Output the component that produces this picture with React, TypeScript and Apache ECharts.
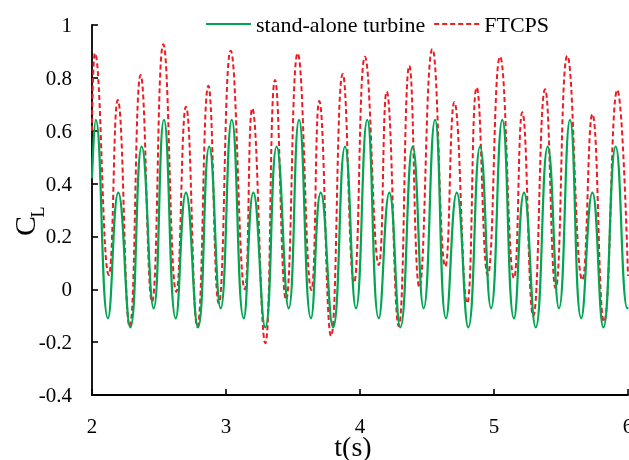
import React, { useEffect, useRef } from "react";
import * as echarts from "echarts";

// stand-alone turbine: times (s) and C_L values at peaks / troughs
const greenT = [
  2.0, 2.028, 2.119, 2.196, 2.286, 2.371, 2.46,
  2.537, 2.625, 2.701, 2.791, 2.875, 2.96,
  3.043, 3.132, 3.204, 3.293, 3.378, 3.468,
  3.545, 3.634, 3.707, 3.799, 3.888, 3.97,
  4.054, 4.14, 4.219, 4.301, 4.393, 4.475,
  4.56, 4.642, 4.722, 4.808, 4.896, 4.978,
  5.062, 5.149, 5.224, 5.311, 5.401, 5.485,
  5.567, 5.651, 5.734, 5.816, 5.908, 5.995, 6.0,
];
const greenV = [
  0.42, 0.641, -0.11, 0.366, -0.144, 0.54, -0.072,
  0.641, -0.11, 0.366, -0.144, 0.54, -0.072,
  0.641, -0.11, 0.366, -0.144, 0.54, -0.072,
  0.641, -0.11, 0.366, -0.144, 0.54, -0.072,
  0.641, -0.11, 0.366, -0.144, 0.54, -0.072,
  0.641, -0.11, 0.366, -0.144, 0.54, -0.072,
  0.641, -0.11, 0.366, -0.144, 0.54, -0.072,
  0.641, -0.11, 0.366, -0.144, 0.54, -0.072, -0.068,
];

// FTCPS
const redT = [
  2.0, 2.022, 2.125, 2.192, 2.281, 2.363, 2.448,
  2.532, 2.629, 2.701, 2.786, 2.868, 2.946,
  3.035, 3.14, 3.196, 3.293, 3.366, 3.448,
  3.535, 3.637, 3.696, 3.784, 3.871, 3.955,
  4.037, 4.14, 4.199, 4.289, 4.368, 4.443,
  4.54, 4.637, 4.704, 4.799, 4.871, 4.953,
  5.045, 5.149, 5.211, 5.293, 5.381, 5.46,
  5.547, 5.659, 5.734, 5.821, 5.92, 6.0,
];
const redV = [
  0.6, 0.893, 0.054, 0.716, -0.142, 0.811, -0.047,
  0.927, -0.009, 0.691, -0.142, 0.77, -0.053,
  0.903, 0.0, 0.685, -0.204, 0.792, -0.04,
  0.893, -0.003, 0.712, -0.177, 0.815, 0.025,
  0.88, 0.092, 0.748, -0.139, 0.846, 0.008,
  0.909, 0.086, 0.708, -0.053, 0.764, 0.054,
  0.88, 0.042, 0.67, -0.101, 0.757, 0.004,
  0.884, 0.035, 0.663, -0.123, 0.754, 0.05,
];

const seriesNames = ["stand-alone turbine", "FTCPS"];
const xTicks = { min: 2, max: 6, interval: 1 };
const yTicks = { min: -0.4, max: 1, interval: 0.2 };

const FONT_AXIS = "serif";
const FONT_LEGEND = "Times New Roman";
const FONT_NAME = "Liberation Serif";

export default function App() {
  const ref = useRef<HTMLDivElement>(null);
  useEffect(() => {
    if (!ref.current) return;
    const chart = echarts.init(ref.current, undefined, { renderer: "svg" });
    const green = greenT.map((t, i) => [t, greenV[i]]);
    const red = redT.map((t, i) => [t, redV[i]]);
    const axisCommon = {
      axisTick: { show: true, inside: true, length: 6, lineStyle: { color: "#000", width: 1.6 } },
      splitLine: { show: false },
    };
    chart.setOption({
      animation: false,
      grid: { left: 92, top: 25, right: 1, bottom: 65, containLabel: false, outerBoundsMode: "none" },
      legend: {
        data: seriesNames,
        left: 200,
        top: 8,
        itemWidth: 45,
        itemHeight: 14,
        itemGap: 8,
        itemStyle: { opacity: 0 },
        textStyle: { fontFamily: FONT_LEGEND, fontSize: 22, color: "#000" },
      },
      xAxis: {
        type: "value",
        min: xTicks.min,
        max: xTicks.max,
        interval: xTicks.interval,
        ...axisCommon,
        axisLine: { show: true, onZero: false, lineStyle: { color: "#000", width: 1.8 } },
        axisLabel: { fontFamily: FONT_AXIS, fontSize: 21, color: "#000", margin: 20 },
      },
      yAxis: {
        type: "value",
        min: yTicks.min,
        max: yTicks.max,
        interval: yTicks.interval,
        ...axisCommon,
        axisLine: { show: true, onZero: false, lineStyle: { color: "#000", width: 1.8 } },
        axisLabel: {
          fontFamily: FONT_AXIS,
          fontSize: 21,
          color: "#000",
          margin: 20,
          formatter: (v: number) => String(Math.round(v * 10) / 10),
        },
      },
      graphic: [
        {
          type: "text",
          x: 353,
          y: 446,
          style: {
            text: "t(s)",
            fontFamily: FONT_NAME,
            fontSize: 28,
            fill: "#000",
            align: "center",
            verticalAlign: "middle",
          },
        },
        {
          type: "text",
          x: 24,
          y: 226,
          rotation: Math.PI / 2,
          style: {
            text: "C",
            fontFamily: FONT_NAME,
            fontSize: 30,
            fill: "#000",
            align: "center",
            verticalAlign: "middle",
          },
        },
        {
          type: "text",
          x: 38,
          y: 212,
          rotation: Math.PI / 2,
          style: {
            text: "L",
            fontFamily: FONT_NAME,
            fontSize: 18,
            fill: "#000",
            align: "center",
            verticalAlign: "middle",
          },
        },
      ],
      series: [
        {
          name: seriesNames[0],
          type: "line",
          data: green,
          smooth: 0.5,
          symbol: "none",
          lineStyle: { color: "#00A651", width: 2.2 },
          itemStyle: { color: "#00A651" },
          z: 3,
        },
        {
          name: seriesNames[1],
          type: "line",
          data: red,
          smooth: 0.5,
          symbol: "none",
          lineStyle: { color: "#ED1C24", width: 2, type: [5, 3] },
          itemStyle: { color: "#ED1C24" },
          z: 2,
        },
      ],
    });
    return () => chart.dispose();
  }, []);
  return <div ref={ref} style={{ position: "fixed", left: 0, top: 0, width: 629, height: 460 }} />;
}
